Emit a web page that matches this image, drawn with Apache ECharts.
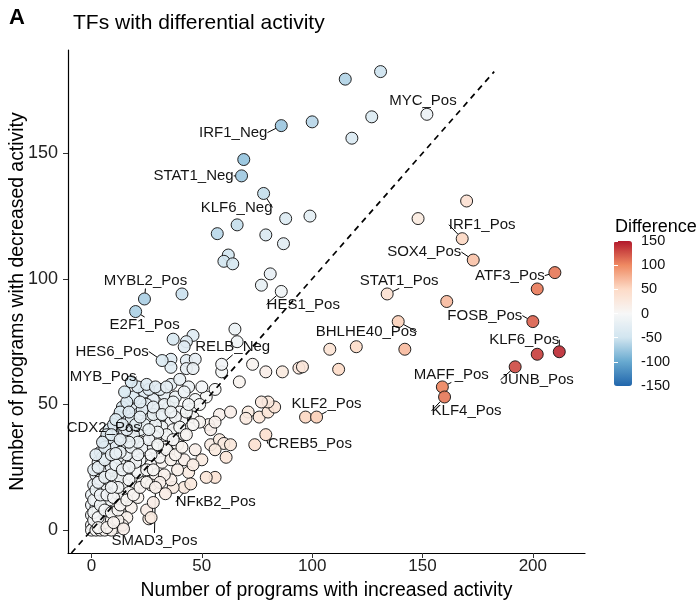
<!DOCTYPE html>
<html>
<head>
<meta charset="utf-8">
<script src="https://cdn.jsdelivr.net/npm/echarts@6/dist/echarts.min.js"></script>
<style>
html, body { margin: 0; padding: 0; background: #fff; }
#chart { width: 700px; height: 605px; }
</style>
</head>
<body>
<div id="chart"></div>
<script>
// TFs with differential activity: increased vs decreased programs

// labelled TFs
const labelTF = ['MYC_Pos', 'IRF1_Neg', 'STAT1_Neg', 'KLF6_Neg', 'HES1_Pos', 'MYBL2_Pos', 'E2F1_Pos',
    'HES6_Pos', 'MYB_Pos', 'RELB_Neg', 'CDX2_Pos', 'NFκB2_Pos', 'SMAD3_Pos', 'CREB5_Pos', 'KLF2_Pos',
    'STAT1_Pos', 'BHLHE40_Pos', 'IRF1_Pos', 'SOX4_Pos', 'ATF3_Pos', 'FOSB_Pos', 'KLF6_Pos', 'JUNB_Pos',
    'MAFF_Pos', 'KLF4_Pos'];
const labelInc = [152, 86, 68, 78, 86, 24, 20, 32, 18, 59, 11, 45, 29, 79, 102,
    134, 139, 168, 173, 210, 200, 212, 192, 159, 160];
const labelDec = [165.5, 161, 141, 134, 95, 92, 87, 67.5, 59, 66, 30.5, 18.4, 17, 38, 45,
    94, 83, 116, 107.5, 102.5, 83, 71, 65, 57, 53];

// the remaining TFs
const otherInc = [
    // upper left
    131, 115, 127, 100, 118, 69, 88, 99, 66, 57, 79, 87, 62, 60, 64, 81, 77, 41, 65, 46, 37, 43, 66, 42,
    36, 43, 47, 36, 43, 46, 59, 56, 52, 67, 73,
    // dense cluster
    36, 40, 44, 50,
    19, 24, 28, 33, 38, 42, 47,
    14, 20, 25, 30, 35, 40, 45, 49,
    12, 16, 21, 26, 31, 36, 41, 46,
    8, 12, 17, 22, 27, 32, 37, 42,
    6, 10, 14, 19, 24, 29, 34, 39,
    4, 8, 15, 20, 25, 30, 35,
    3, 6, 10, 14, 18, 22, 27, 32,
    2, 5, 8, 12, 16, 20, 24, 29,
    1, 4, 7, 11, 15, 19, 23, 27,
    0, 3, 6, 9, 13, 17, 21,
    0, 2, 5, 8, 11, 14, 18,
    0, 2, 4, 7, 10, 13, 16,
    0, 1, 3, 5, 8, 11, 14,
    0, 2, 4, 6, 9,
    1, 3, 6, 9, 12, 2, 5, 8, 11, 14, 4, 7, 10, 13, 17, 21, 25, 5, 9, 12, 16, 20, 23, 28, 33,
    7, 11, 15, 19, 24, 29, 34, 38, 43, 13, 18, 23, 28, 33, 37, 44, 22, 26, 31, 16, 10, 40, 30, 26, 18, 21,
    1, 3, 1, 4, 6, 9, 12, 2, 4, 7, 10, 12, 3, 6, 9, 1, 3, 6, 9, 11, 14, 17, 2, 6, 9, 13, 17, 21,
    5, 9, 13, 16, 20, 11, 14, 17, 22, 26, 15, 21, 25, 29, 34, 28, 32, 36, 3, 7, 10, 13, 16, 19, 22, 25,
    28, 31, 34, 37, 27, 30,
    // right of the diagonal
    58, 63, 71, 76, 80, 83, 80, 77, 53, 49, 46, 43, 47, 50, 44, 39, 36, 54, 58, 60, 63, 56, 61, 56, 52,
    42, 37, 36, 33.5, 26, 14.5, 74, 97, 86.5, 94, 95.6, 79, 108, 112, 120, 142, 161, 148, 170, 202, 202,
    25, 28, 27, 42, 46, 38, 41, 33, 31, 54, 56, 70
];
const otherDec = [
    182.5, 179.5, 164.5, 162.5, 156, 147.5, 124, 125, 121.5, 118, 117.5, 114, 109.5, 107, 106, 102, 97.5, 94,
    80, 77.5, 76, 75, 75, 73,
    68, 67.5, 68, 64.8, 64.3, 64.3, 63, 56, 53, 59, 66,
    58, 60, 57, 57,
    53, 55, 52, 54, 53, 55, 52,
    49, 48, 50, 48, 49, 47, 48, 50,
    45, 43, 46, 44, 45, 43, 44, 45,
    40, 39, 41, 40, 39, 41, 40, 38,
    36, 35, 37, 36, 35, 37, 35, 34,
    31, 32, 33, 31, 32, 30, 31,
    27, 26, 28, 26, 27, 28, 26, 27,
    22, 24, 21, 23, 22, 24, 21, 22,
    18, 17, 19, 17, 18, 17, 19, 18,
    14, 13, 15, 13, 14, 15, 13,
    10, 9, 11, 9, 10, 11, 9,
    6, 5, 7, 5, 6, 7, 5,
    2, 1, 3, 1, 2, 1, 2,
    0, 0, 0, 0, 0,
    4, 8, 3, 4, 4, 12, 16, 12, 15, 13, 20, 23, 19, 21, 20, 23, 24, 29, 25, 29, 30, 27, 33, 33, 33,
    38, 33, 39, 38, 42, 42, 38, 45, 47, 47, 44, 48, 46, 50, 51, 50, 51, 56, 56, 51, 42, 41, 39, 36, 33, 35,
    7, 5, 12, 10, 8, 7, 8, 16, 14, 14, 13, 17, 19, 21, 17, 24, 25, 28, 22, 26, 24, 25, 30, 33, 30, 31, 35, 30,
    35, 38, 36, 40, 42, 44, 42, 47, 45, 40, 55, 57, 58, 57, 57, 49, 46, 47, 1, 1, 3, 10, 12, 14, 17, 19,
    24, 29, 32, 36, 30, 34,
    46, 47, 47, 45, 47, 49, 51, 51, 42, 43, 42, 38, 32, 28, 23, 24, 28, 34, 36, 34.5, 34, 32, 29, 21, 21,
    17, 17, 20, 14.5, 4.5, 0.5, 34, 45, 63, 64.5, 65, 63, 72, 64, 73, 72, 91, 124, 131, 96, 70,
    8, 11, 5, 28, 26, 30, 33, 22, 19, 40, 43, 44.5
];

// label placement (pixel offsets from the point), in the same order as labelTF
const labelOffsets = [[-4, -13], [-48, 7], [-48, 0], [-27, 14], [22, 13], [1, -18], [9, 13],
    [-50, -9], [-28, -5], [11, -17], [-12, -26], [25, 18], [-1, 53], [44, 9], [10, -13],
    [12, -13], [-32, 10], [20, -14], [-49, -8], [-45, 3], [-48, -6], [-35, -12], [22, 13],
    [9, -12], [22, 14]];

const xTicks = [0, 50, 100, 150, 200];
const yTicks = [0, 50, 100, 150];

const rdbu = ['#2166AC', '#67A9CF', '#D1E5F0', '#F7F7F7', '#FDDBC7', '#EF8A62', '#B2182B'];
const fontFam = '"Liberation Sans", Arial, Helvetica, sans-serif';

const otherData = otherInc.map((v, i) => [v, otherDec[i], v - otherDec[i]]);
const labelData = labelInc.map((v, i) => ({
    value: [v, labelDec[i], v - labelDec[i]],
    name: labelTF[i]
}));

const allDec = otherDec.concat(labelDec);
const xMin = -10.65, xMax = 223.65;
const yMin = -9.1, yMax = 191.1;
const diagEnd = Math.max(...allDec);

const chart = echarts.init(document.getElementById('chart'));

const pointStyle = { borderColor: '#111', borderWidth: 1, opacity: 0.92 };

chart.setOption({
    animation: false,
    textStyle: { fontFamily: fontFam },
    title: [
        { text: 'A', left: 4, top: 2, textStyle: { fontSize: 22, fontWeight: 'bold', color: '#000', fontFamily: fontFam } },
        { text: 'TFs with differential activity', left: 68, top: 8, textStyle: { fontSize: 21, fontWeight: 'normal', color: '#000', fontFamily: fontFam } },
        { text: 'Difference', left: 610, top: 213, textStyle: { fontSize: 18, fontWeight: 'normal', color: '#000', fontFamily: fontFam } }
    ],
    grid: [
        { left: 68, right: 115, top: 50, bottom: 52, outerBoundsMode: 'none', containLabel: false },
        { left: 614, width: 18, top: 241, height: 145, outerBoundsMode: 'none', containLabel: false }
    ],
    xAxis: [
        {
            gridIndex: 0, type: 'value', min: xMin, max: xMax,
            name: 'Number of programs with increased activity', nameLocation: 'middle', nameGap: 28,
            nameMoveOverlap: false,
            nameTextStyle: { fontSize: 19.4, color: '#000', fontFamily: fontFam },
            splitLine: { show: false },
            axisLine: { show: true, onZero: false, lineStyle: { color: '#000', width: 1.2 } },
            axisTick: { show: true, customValues: xTicks, length: 5, lineStyle: { color: '#333' } },
            axisLabel: { customValues: xTicks, margin: 5, fontSize: 17, color: '#222', fontFamily: fontFam }
        },
        { gridIndex: 1, type: 'value', min: 0, max: 1, show: false }
    ],
    yAxis: [
        {
            gridIndex: 0, type: 'value', min: yMin, max: yMax,
            name: 'Number of programs with decreased activity', nameLocation: 'middle', nameGap: 41,
            nameMoveOverlap: false,
            nameTextStyle: { fontSize: 19.4, color: '#000', fontFamily: fontFam },
            splitLine: { show: false },
            axisLine: { show: true, onZero: false, lineStyle: { color: '#000', width: 1.2 } },
            axisTick: { show: true, customValues: yTicks, length: 5, lineStyle: { color: '#333' } },
            axisLabel: { customValues: yTicks, margin: 10, fontSize: 18, color: '#222', fontFamily: fontFam }
        },
        {
            gridIndex: 1, type: 'value', min: -150, max: 150, interval: 50, position: 'right', z: 10,
            splitLine: { show: false }, axisLine: { show: false },
            axisTick: { show: true, inside: true, length: 4, lineStyle: { color: '#fff', width: 1 } },
            axisLabel: { margin: 9, fontSize: 14.5, color: '#111', fontFamily: fontFam }
        },
        {
            gridIndex: 1, type: 'value', min: -150, max: 150, interval: 50, position: 'left', z: 10,
            splitLine: { show: false }, axisLine: { show: false }, axisLabel: { show: false },
            axisTick: { show: true, inside: true, length: 4, lineStyle: { color: '#fff', width: 1 } }
        }
    ],
    visualMap: {
        type: 'continuous', dimension: 2, min: -150, max: 150, seriesIndex: [0, 1],
        orient: 'vertical', left: 614, top: 241, itemWidth: 18, itemHeight: 145, padding: 0,
        calculable: false, text: null, showLabel: false, realtime: false,
        inRange: { color: rdbu }
    },
    series: [
        {
            type: 'scatter', xAxisIndex: 0, yAxisIndex: 0,
            symbolSize: 12, itemStyle: pointStyle,
            data: otherData,
            markLine: {
                silent: true, symbol: 'none', animation: false,
                label: { show: false },
                lineStyle: { color: '#000', type: [6, 5], width: 1.7 },
                data: [[{ coord: [yMin, yMin] }, { coord: [diagEnd, diagEnd] }]]
            }
        },
        {
            type: 'scatter', xAxisIndex: 0, yAxisIndex: 0,
            symbolSize: 12, itemStyle: pointStyle,
            data: labelData,
            label: {
                show: true, position: 'inside', formatter: p => p.name,
                fontSize: 15, color: '#000', fontFamily: fontFam
            },
            labelLine: { show: true, lineStyle: { color: '#000', width: 1 } },
            labelLayout: p => ({ dx: labelOffsets[p.dataIndex][0], dy: labelOffsets[p.dataIndex][1], hideOverlap: false })
        }
    ]
});
</script>
</body>
</html>
